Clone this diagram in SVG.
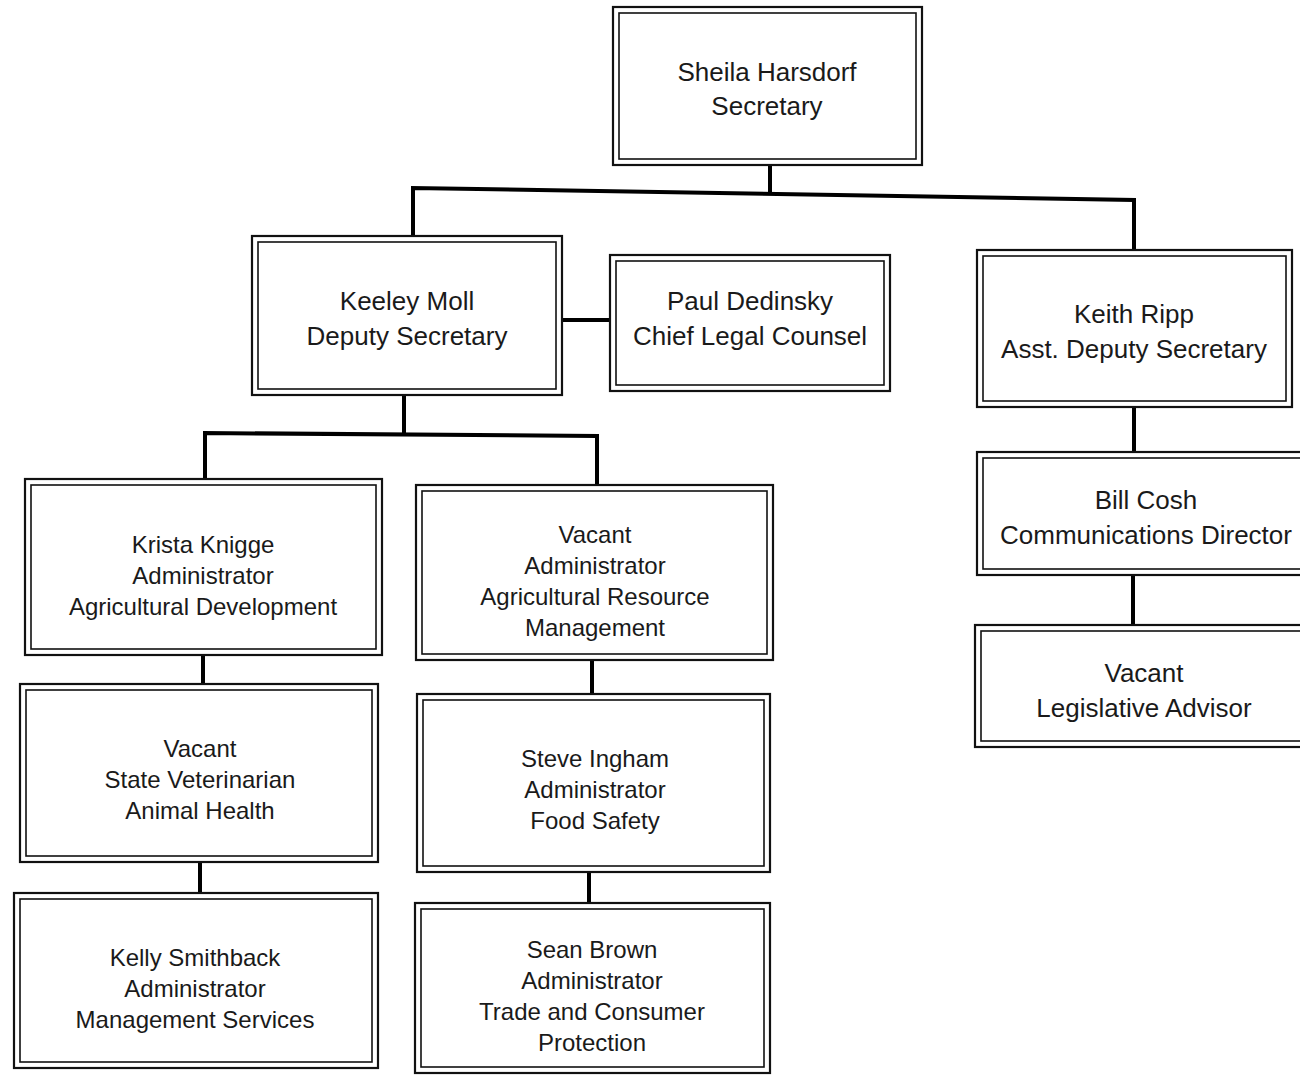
<svg xmlns="http://www.w3.org/2000/svg" width="1300" height="1075" viewBox="0 0 1300 1075">
<style>
.o{fill:#fff;stroke:#111;stroke-width:2.2}
.i{fill:none;stroke:#111;stroke-width:1.6}
.t{font-family:"Liberation Sans",Arial,sans-serif;fill:#1a1a1a;text-anchor:middle}
.big{font-size:26px}
.sm{font-size:24px}
.c{fill:none;stroke:#000;stroke-width:4;stroke-linejoin:miter}
</style>
<rect width="1300" height="1075" fill="#fff"/>
<g id="connectors">
<path class="c" d="M770 165 V194"/>
<path class="c" d="M413 236 V188 L1134 200 V250"/>
<path class="c" d="M562 320 H610"/>
<path class="c" d="M404 395 V434"/>
<path class="c" d="M205 479 V433 L597 436 V485"/>
<path class="c" d="M203 655 V684"/>
<path class="c" d="M200 862 V893"/>
<path class="c" d="M592 660 V694"/>
<path class="c" d="M589 872 V903"/>
<path class="c" d="M1134 407 V452"/>
<path class="c" d="M1133 575 V625"/>
</g>
<g id="sheila">
<rect class="o" x="613" y="7" width="309" height="158"/>
<rect class="i" x="619" y="13" width="297" height="146"/>
<text class="t big" x="767" y="81">Sheila Harsdorf</text>
<text class="t big" x="767" y="115">Secretary</text>
</g>
<g id="keeley">
<rect class="o" x="252" y="236" width="310" height="159"/>
<rect class="i" x="258" y="242" width="298" height="147"/>
<text class="t big" x="407" y="310">Keeley Moll</text>
<text class="t big" x="407" y="345">Deputy Secretary</text>
</g>
<g id="paul">
<rect class="o" x="610" y="255" width="280" height="136"/>
<rect class="i" x="616" y="261" width="268" height="124"/>
<text class="t big" x="750" y="310">Paul Dedinsky</text>
<text class="t big" x="750" y="345">Chief Legal Counsel</text>
</g>
<g id="keith">
<rect class="o" x="977" y="250" width="315" height="157"/>
<rect class="i" x="983" y="256" width="303" height="145"/>
<text class="t big" x="1134" y="323">Keith Ripp</text>
<text class="t big" x="1134" y="358">Asst. Deputy Secretary</text>
</g>
<g id="bill">
<rect class="o" x="977" y="452" width="335" height="123"/>
<rect class="i" x="983" y="458" width="323" height="111"/>
<text class="t big" x="1146" y="509">Bill Cosh</text>
<text class="t big" x="1146" y="544">Communications Director</text>
</g>
<g id="legislative">
<rect class="o" x="975" y="625" width="337" height="122"/>
<rect class="i" x="981" y="631" width="325" height="110"/>
<text class="t big" x="1144" y="682">Vacant</text>
<text class="t big" x="1144" y="717">Legislative Advisor</text>
</g>
<g id="krista">
<rect class="o" x="25" y="479" width="357" height="176"/>
<rect class="i" x="31" y="485" width="345" height="164"/>
<text class="t sm" x="203" y="553">Krista Knigge</text>
<text class="t sm" x="203" y="584">Administrator</text>
<text class="t sm" x="203" y="615">Agricultural Development</text>
</g>
<g id="agres">
<rect class="o" x="416" y="485" width="357" height="175"/>
<rect class="i" x="422" y="491" width="345" height="163"/>
<text class="t sm" x="595" y="543">Vacant</text>
<text class="t sm" x="595" y="574">Administrator</text>
<text class="t sm" x="595" y="605">Agricultural Resource</text>
<text class="t sm" x="595" y="636">Management</text>
</g>
<g id="vet">
<rect class="o" x="20" y="684" width="358" height="178"/>
<rect class="i" x="26" y="690" width="346" height="166"/>
<text class="t sm" x="200" y="757">Vacant</text>
<text class="t sm" x="200" y="788">State Veterinarian</text>
<text class="t sm" x="200" y="819">Animal Health</text>
</g>
<g id="steve">
<rect class="o" x="417" y="694" width="353" height="178"/>
<rect class="i" x="423" y="700" width="341" height="166"/>
<text class="t sm" x="595" y="767">Steve Ingham</text>
<text class="t sm" x="595" y="798">Administrator</text>
<text class="t sm" x="595" y="829">Food Safety</text>
</g>
<g id="kelly">
<rect class="o" x="14" y="893" width="364" height="175"/>
<rect class="i" x="20" y="899" width="352" height="163"/>
<text class="t sm" x="195" y="966">Kelly Smithback</text>
<text class="t sm" x="195" y="997">Administrator</text>
<text class="t sm" x="195" y="1028">Management Services</text>
</g>
<g id="sean">
<rect class="o" x="415" y="903" width="355" height="170"/>
<rect class="i" x="421" y="909" width="343" height="158"/>
<text class="t sm" x="592" y="958">Sean Brown</text>
<text class="t sm" x="592" y="989">Administrator</text>
<text class="t sm" x="592" y="1020">Trade and Consumer</text>
<text class="t sm" x="592" y="1051">Protection</text>
</g>
</svg>
